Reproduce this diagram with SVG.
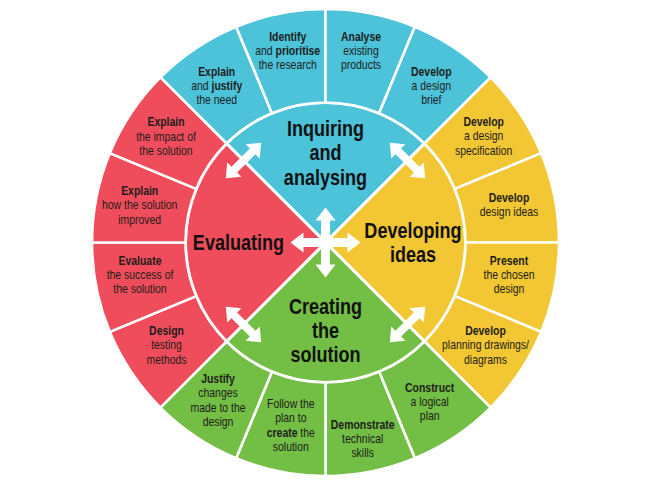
<svg xmlns="http://www.w3.org/2000/svg" width="667" height="500" viewBox="0 0 667 500">
<defs>
<style>
.seg{stroke:#fff;stroke-width:2.6;stroke-linejoin:round}
.q{stroke:#fff;stroke-width:3;stroke-linejoin:round}
.bl{fill:#4cc3d9}.ye{fill:#f2c733}.gr{fill:#73be45}.re{fill:#ef4d5c}
.t{font-family:"Liberation Sans",Arial,sans-serif;font-size:12px;fill:#1d1d1b;text-anchor:middle}
.b{font-weight:bold}
.h{font-family:"Liberation Sans",Arial,sans-serif;font-size:21.5px;font-weight:bold;fill:#111;text-anchor:middle}
.arr{fill:#fff}
</style>
<path id="dbl" d="M-25,0 L-13,-10 L-13,-4 L13,-4 L13,-10 L25,0 L13,10 L13,4 L-13,4 L-13,10 Z"/>
</defs>
<rect width="667" height="500" fill="#fff"/>

<g id="quadrants">
<g id="inquiring"><path class="q bl" d="M325.5,242.5 L226.51,143.51 A140,140 0 0 1 424.49,143.51 Z"/>
<g transform="translate(325.5,0) scale(0.84,1)"><text class="h"><tspan x="0" y="136">Inquiring</tspan><tspan x="0" y="160.5">and</tspan><tspan x="0" y="185">analysing</tspan></text></g></g>
<g id="developing"><path class="q ye" d="M325.5,242.5 L424.49,143.51 A140,140 0 0 1 424.49,341.49 Z"/>
<g transform="translate(413,0) scale(0.84,1)"><text class="h"><tspan x="0" y="238">Developing</tspan><tspan x="0" y="262">ideas</tspan></text></g></g>
<g id="creating"><path class="q gr" d="M325.5,242.5 L424.49,341.49 A140,140 0 0 1 226.51,341.49 Z"/>
<g transform="translate(325.5,0) scale(0.84,1)"><text class="h"><tspan x="0" y="314">Creating</tspan><tspan x="0" y="338">the</tspan><tspan x="0" y="362">solution</tspan></text></g></g>
<g id="evaluating"><path class="q re" d="M325.5,242.5 L226.51,341.49 A140,140 0 0 1 226.51,143.51 Z"/>
<g transform="translate(238.5,0) scale(0.84,1)"><text class="h"><tspan x="0" y="250">Evaluating</tspan></text></g></g>
</g>

<g id="ring">
<g id="s-justify-need"><path class="seg bl" d="M226.51,143.51 L160.39,77.39 A233.5,233.5 0 0 1 236.14,26.77 L271.92,113.16 A140,140 0 0 0 226.51,143.51 Z"/>
<g transform="translate(216.7,0) scale(0.87,1)"><text class="t"><tspan x="0" y="76" class="b">Explain</tspan><tspan x="0" y="90">and <tspan class="b">justify</tspan></tspan><tspan x="0" y="104">the need</tspan></text></g></g>
<g id="s-identify"><path class="seg bl" d="M271.92,113.16 L236.14,26.77 A233.5,233.5 0 0 1 325.5,9 L325.5,102.5 A140,140 0 0 0 271.92,113.16 Z"/>
<g transform="translate(287.7,0) scale(0.87,1)"><text class="t"><tspan x="0" y="41.5" class="b">Identify</tspan><tspan x="0" y="55.5">and <tspan class="b">prioritise</tspan></tspan><tspan x="0" y="69.5">the research</tspan></text></g></g>
<g id="s-analyse"><path class="seg bl" d="M325.5,102.5 L325.5,9 A233.5,233.5 0 0 1 414.86,26.77 L379.08,113.16 A140,140 0 0 0 325.5,102.5 Z"/>
<g transform="translate(361,0) scale(0.87,1)"><text class="t"><tspan x="0" y="41" class="b">Analyse</tspan><tspan x="0" y="55">existing</tspan><tspan x="0" y="69">products</tspan></text></g></g>
<g id="s-brief"><path class="seg bl" d="M379.08,113.16 L414.86,26.77 A233.5,233.5 0 0 1 490.61,77.39 L424.49,143.51 A140,140 0 0 0 379.08,113.16 Z"/>
<g transform="translate(431.3,0) scale(0.87,1)"><text class="t"><tspan x="0" y="76" class="b">Develop</tspan><tspan x="0" y="90.5">a design</tspan><tspan x="0" y="104">brief</tspan></text></g></g>

<g id="s-spec"><path class="seg ye" d="M424.49,143.51 L490.61,77.39 A233.5,233.5 0 0 1 541.23,153.14 L454.84,188.92 A140,140 0 0 0 424.49,143.51 Z"/>
<g transform="translate(483.7,0) scale(0.87,1)"><text class="t"><tspan x="0" y="126.5" class="b">Develop</tspan><tspan x="0" y="140.5">a design</tspan><tspan x="0" y="155">specification</tspan></text></g></g>
<g id="s-ideas"><path class="seg ye" d="M454.84,188.92 L541.23,153.14 A233.5,233.5 0 0 1 559,242.5 L465.5,242.5 A140,140 0 0 0 454.84,188.92 Z"/>
<g transform="translate(509,0) scale(0.87,1)"><text class="t"><tspan x="0" y="202" class="b">Develop</tspan><tspan x="0" y="216.5">design ideas</tspan></text></g></g>
<g id="s-present"><path class="seg ye" d="M465.5,242.5 L559,242.5 A233.5,233.5 0 0 1 541.23,331.86 L454.84,296.08 A140,140 0 0 0 465.5,242.5 Z"/>
<g transform="translate(509,0) scale(0.87,1)"><text class="t"><tspan x="0" y="265" class="b">Present</tspan><tspan x="0" y="279">the chosen</tspan><tspan x="0" y="293">design</tspan></text></g></g>
<g id="s-planning"><path class="seg ye" d="M454.84,296.08 L541.23,331.86 A233.5,233.5 0 0 1 490.61,407.61 L424.49,341.49 A140,140 0 0 0 454.84,296.08 Z"/>
<g transform="translate(485.5,0) scale(0.87,1)"><text class="t"><tspan x="0" y="335" class="b">Develop</tspan><tspan x="0" y="349.5">planning drawings/</tspan><tspan x="0" y="364">diagrams</tspan></text></g></g>

<g id="s-construct"><path class="seg gr" d="M424.49,341.49 L490.61,407.61 A233.5,233.5 0 0 1 414.86,458.23 L379.08,371.84 A140,140 0 0 0 424.49,341.49 Z"/>
<g transform="translate(429.7,0) scale(0.87,1)"><text class="t"><tspan x="0" y="392.5" class="b">Construct</tspan><tspan x="0" y="406.5">a logical</tspan><tspan x="0" y="420.5">plan</tspan></text></g></g>
<g id="s-demonstrate"><path class="seg gr" d="M379.08,371.84 L414.86,458.23 A233.5,233.5 0 0 1 325.5,476 L325.5,382.5 A140,140 0 0 0 379.08,371.84 Z"/>
<g transform="translate(362.7,0) scale(0.87,1)"><text class="t"><tspan x="0" y="429" class="b">Demonstrate</tspan><tspan x="0" y="443">technical</tspan><tspan x="0" y="457">skills</tspan></text></g></g>
<g id="s-follow"><path class="seg gr" d="M325.5,382.5 L325.5,476 A233.5,233.5 0 0 1 236.14,458.23 L271.92,371.84 A140,140 0 0 0 325.5,382.5 Z"/>
<g transform="translate(290.8,0) scale(0.87,1)"><text class="t"><tspan x="0" y="408">Follow the</tspan><tspan x="0" y="422.5">plan to</tspan><tspan x="0" y="437"><tspan class="b">create</tspan> the</tspan><tspan x="0" y="451.5">solution</tspan></text></g></g>
<g id="s-justify-changes"><path class="seg gr" d="M271.92,371.84 L236.14,458.23 A233.5,233.5 0 0 1 160.39,407.61 L226.51,341.49 A140,140 0 0 0 271.92,371.84 Z"/>
<g transform="translate(218,0) scale(0.87,1)"><text class="t"><tspan x="0" y="383" class="b">Justify</tspan><tspan x="0" y="397.5">changes</tspan><tspan x="0" y="412">made to the</tspan><tspan x="0" y="426.5">design</tspan></text></g></g>

<g id="s-testing"><path class="seg re" d="M226.51,341.49 L160.39,407.61 A233.5,233.5 0 0 1 109.77,331.86 L196.16,296.08 A140,140 0 0 0 226.51,341.49 Z"/>
<g transform="translate(166.5,0) scale(0.87,1)"><text class="t"><tspan x="0" y="335" class="b">Design</tspan><tspan x="0" y="349.5">testing</tspan><tspan x="0" y="364">methods</tspan></text></g></g>
<g id="s-success"><path class="seg re" d="M196.16,296.08 L109.77,331.86 A233.5,233.5 0 0 1 92,242.5 L185.5,242.5 A140,140 0 0 0 196.16,296.08 Z"/>
<g transform="translate(140,0) scale(0.87,1)"><text class="t"><tspan x="0" y="265" class="b">Evaluate</tspan><tspan x="0" y="279">the success of</tspan><tspan x="0" y="293">the solution</tspan></text></g></g>
<g id="s-improved"><path class="seg re" d="M185.5,242.5 L92,242.5 A233.5,233.5 0 0 1 109.77,153.14 L196.16,188.92 A140,140 0 0 0 185.5,242.5 Z"/>
<g transform="translate(139.7,0) scale(0.87,1)"><text class="t"><tspan x="0" y="195" class="b">Explain</tspan><tspan x="0" y="209.5">how the solution</tspan><tspan x="0" y="224">improved</tspan></text></g></g>
<g id="s-impact"><path class="seg re" d="M196.16,188.92 L109.77,153.14 A233.5,233.5 0 0 1 160.39,77.39 L226.51,143.51 A140,140 0 0 0 196.16,188.92 Z"/>
<g transform="translate(166,0) scale(0.87,1)"><text class="t"><tspan x="0" y="126.5" class="b">Explain</tspan><tspan x="0" y="141">the impact of</tspan><tspan x="0" y="155">the solution</tspan></text></g></g>
</g>

<g id="connectors" class="arr">
<path d="M325.5,207.5 L335.5,220.5 L330,220.5 L330,238 L347.5,238 L347.5,232.5 L360.5,242.5 L347.5,252.5 L347.5,247 L330,247 L330,264.5 L335.5,264.5 L325.5,277.5 L315.5,264.5 L321,264.5 L321,247 L303.5,247 L303.5,252.5 L290.5,242.5 L303.5,232.5 L303.5,238 L321,238 L321,220.5 L315.5,220.5 Z"/>
<use href="#dbl" transform="translate(243.5,160.5) rotate(-45)"/>
<use href="#dbl" transform="translate(407.5,160.5) rotate(45)"/>
<use href="#dbl" transform="translate(243.5,324.5) rotate(45)"/>
<use href="#dbl" transform="translate(407.5,324.5) rotate(-45)"/>
</g>
</svg>
